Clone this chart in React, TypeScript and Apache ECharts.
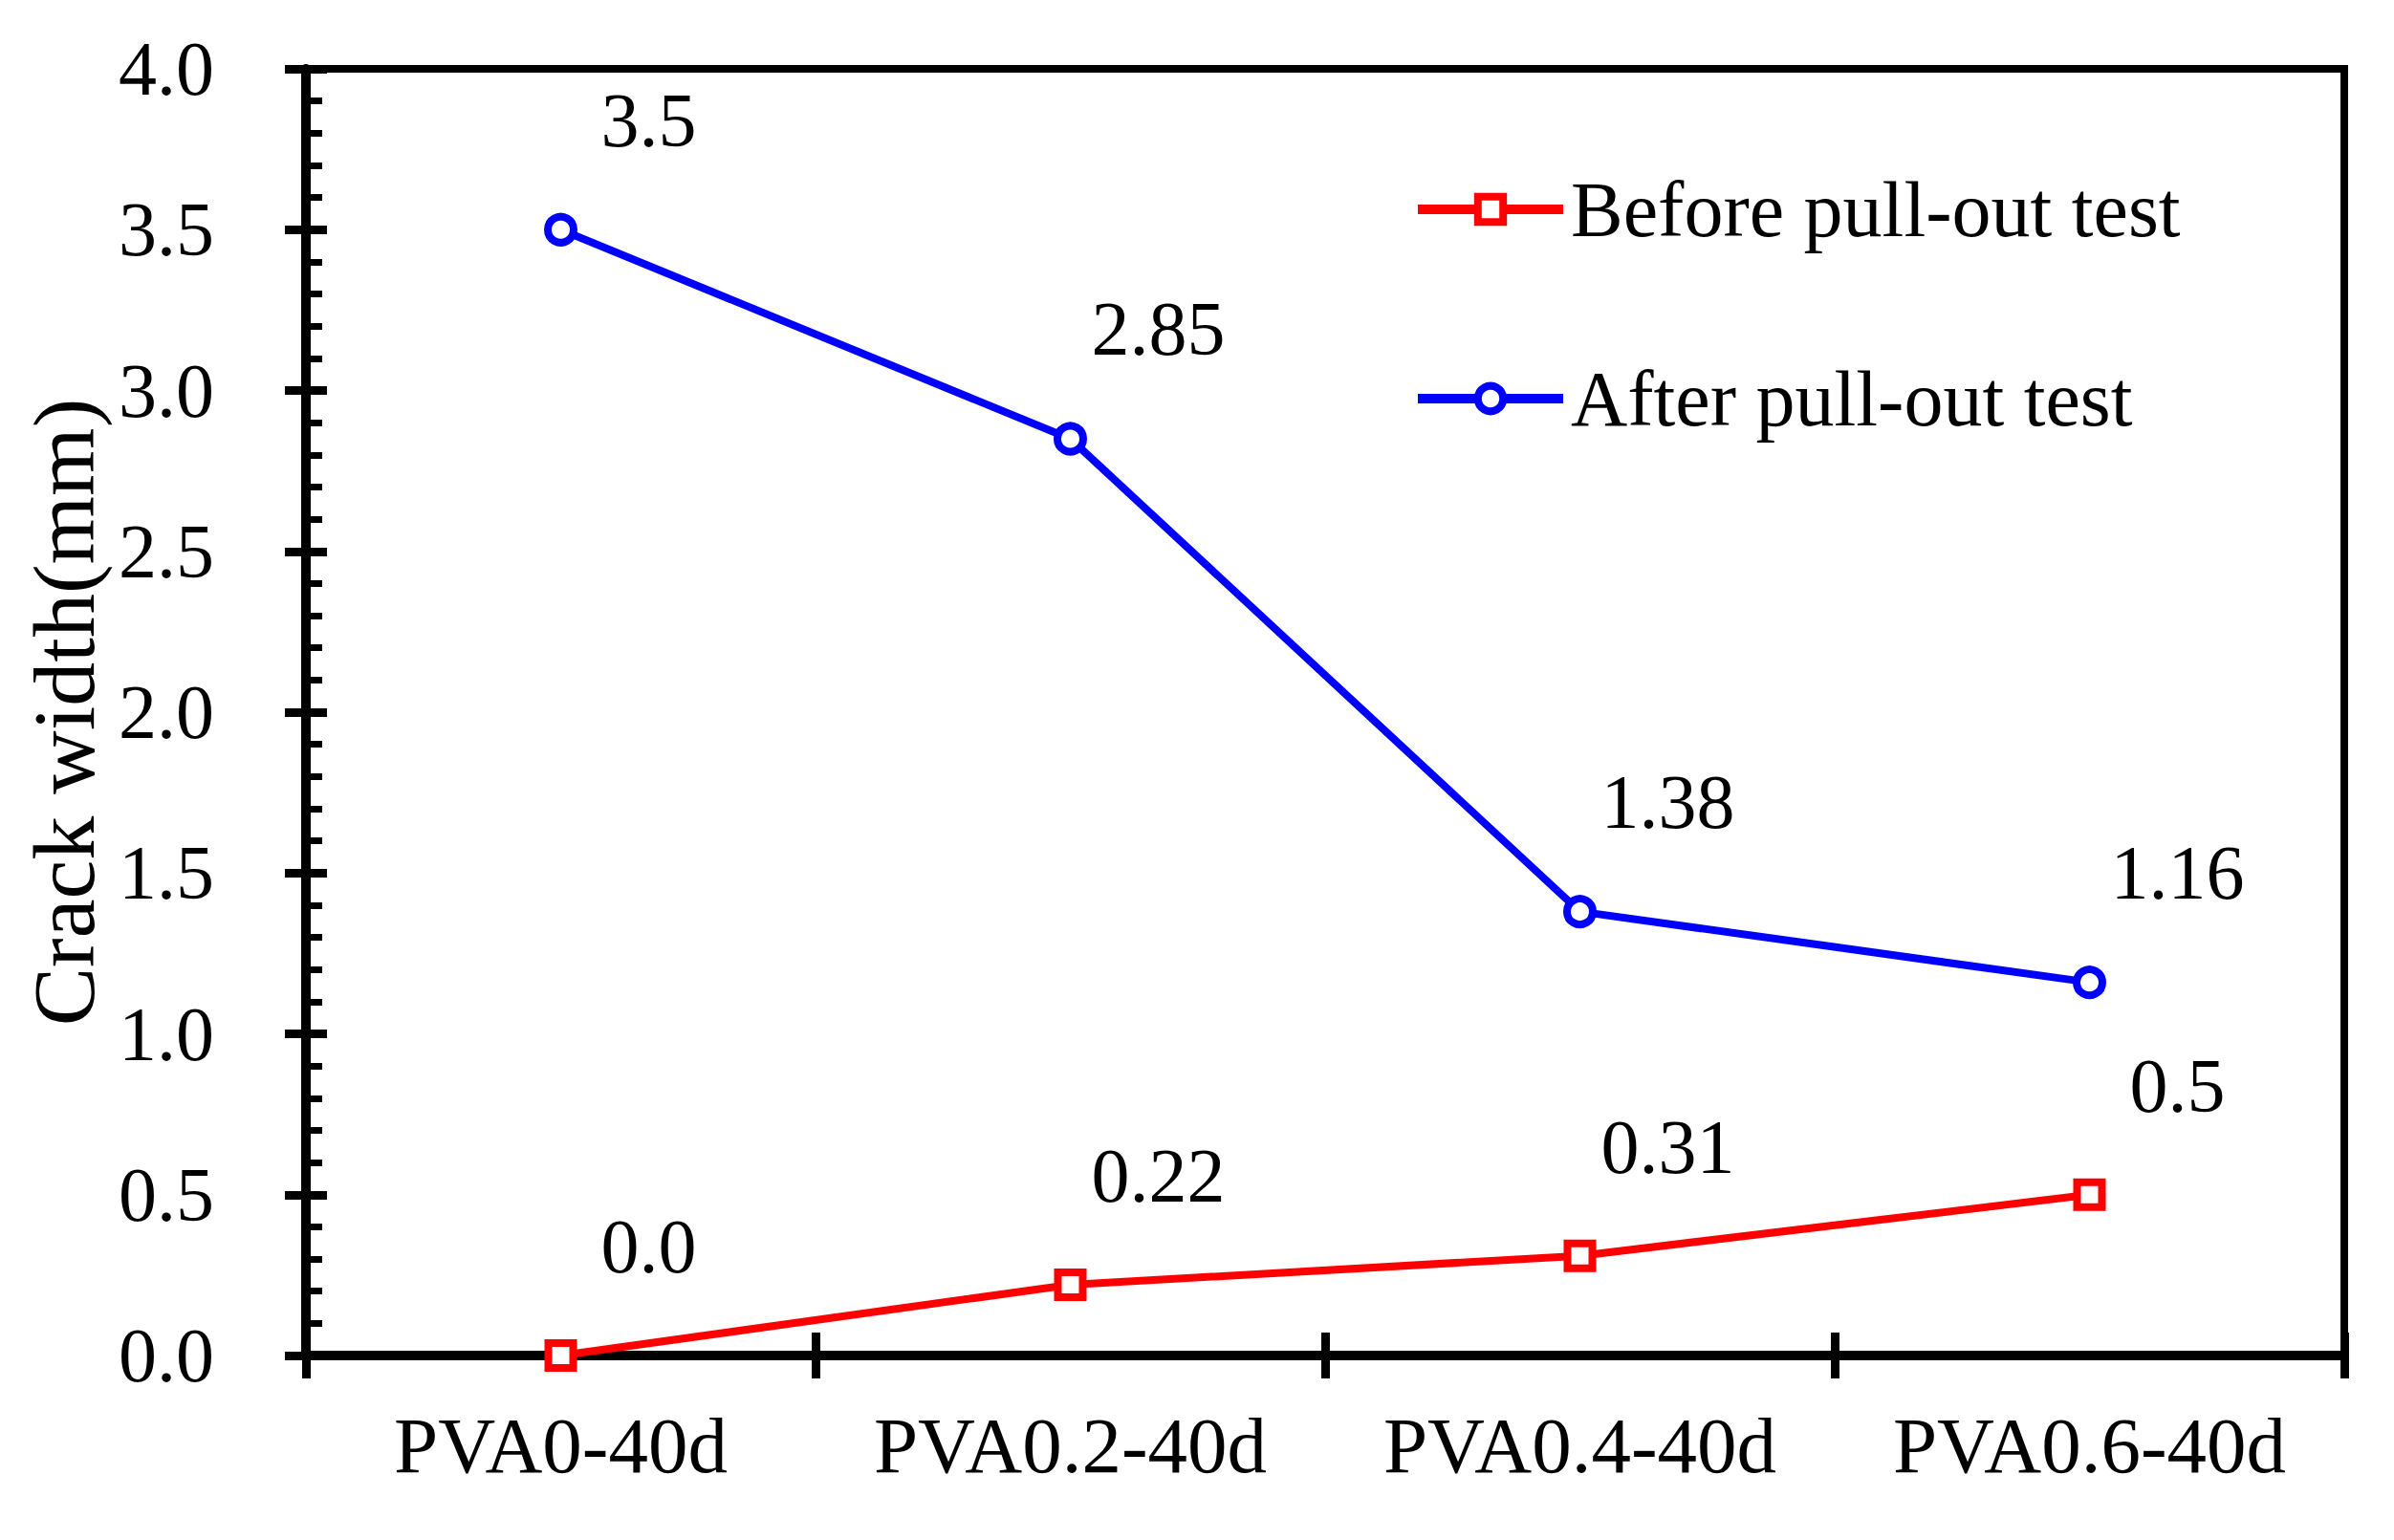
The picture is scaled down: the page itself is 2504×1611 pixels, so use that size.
import React, { useEffect, useRef } from 'react';
import * as echarts from 'echarts';

const categories = ['PVA0-40d', 'PVA0.2-40d', 'PVA0.4-40d', 'PVA0.6-40d'];
const beforeTest = [0, 0.22, 0.31, 0.5];
const afterTest = [3.5, 2.85, 1.38, 1.16];
const seriesNames = ['Before pull-out test', 'After pull-out test'];

const FONT = '"Liberation Serif", "Times New Roman", serif';

const App: React.FC = () => {
  const chartRef = useRef<HTMLDivElement>(null);

  useEffect(() => {
    if (!chartRef.current) return;
    const chart = echarts.init(chartRef.current, undefined, { renderer: 'svg' });

    // labels sit up and to the right of each point
    const pointLabel = {
      show: true,
      position: 'top',
      offset: [92, -52],
      fontSize: 80,
      fontFamily: FONT,
      color: '#000',
      formatter: (p: any) => (p.value === 0 ? '0.0' : String(p.value)),
    };

    const option = {
      animation: false,
      backgroundColor: '#fff',
      grid: {
        left: 320,
        right: 52,
        top: 72,
        bottom: 193,
        show: true,
        borderColor: '#000',
        borderWidth: 8,
        outerBoundsMode: 'none',
      },
      legend: {
        orient: 'vertical',
        left: 1473,
        top: 173,
        itemWidth: 152,
        itemHeight: 33,
        itemGap: 116,
        lineStyle: { width: 10 },
        itemStyle: { borderWidth: 8 },
        textStyle: {
          fontSize: 82,
          lineHeight: 80,
          fontFamily: FONT,
          color: '#000',
          padding: [0, 0, 0, 3],
        },
        data: seriesNames,
      },
      xAxis: [
        {
          type: 'category',
          data: categories,
          boundaryGap: true,
          axisLine: { lineStyle: { color: '#000', width: 10 } },
          axisTick: { show: true, interval: 0, length: 24, lineStyle: { color: '#000', width: 9 } },
          axisLabel: { interval: 0, fontSize: 83, fontFamily: FONT, color: '#000', margin: 52 },
          splitLine: { show: false },
        },
        {
          type: 'category',
          data: categories,
          position: 'bottom',
          boundaryGap: true,
          axisLine: { show: false },
          axisTick: { show: true, interval: 0, inside: true, length: 24, lineStyle: { color: '#000', width: 9 } },
          axisLabel: { show: false, interval: 0 },
          splitLine: { show: false },
        },
      ],
      yAxis: [
        {
          type: 'value',
          min: 0,
          max: 4,
          interval: 0.5,
          name: 'Crack width(mm)',
          nameLocation: 'middle',
          nameGap: 200,
          nameTextStyle: { fontSize: 92, fontFamily: FONT, color: '#000' },
          axisLine: { show: true, lineStyle: { color: '#000', width: 10 } },
          axisTick: { show: true, length: 22, lineStyle: { color: '#000', width: 9 } },
          axisLabel: {
            fontSize: 80,
            fontFamily: FONT,
            color: '#000',
            margin: 96,
            formatter: (v: number) => v.toFixed(1),
          },
          splitLine: { show: false },
        },
        {
          type: 'value',
          min: 0,
          max: 4,
          interval: 0.5,
          position: 'left',
          axisLine: { show: false },
          axisTick: { show: true, inside: true, length: 22, lineStyle: { color: '#000', width: 9 } },
          minorTick: { show: true, splitNumber: 5, length: 17, lineStyle: { color: '#000', width: 7 } },
          axisLabel: { show: false },
          splitLine: { show: false },
          minorSplitLine: { show: false },
        },
      ],
      series: [
        {
          name: seriesNames[0],
          type: 'line',
          data: beforeTest,
          symbol: 'rect',
          symbolSize: 26,
          itemStyle: { color: '#fff', borderColor: '#ff0000', borderWidth: 8 },
          lineStyle: { color: '#ff0000', width: 8 },
          label: pointLabel,
        },
        {
          name: seriesNames[1],
          type: 'line',
          data: afterTest,
          symbol: 'circle',
          symbolSize: 27,
          itemStyle: { color: '#fff', borderColor: '#0000ff', borderWidth: 8 },
          lineStyle: { color: '#0000ff', width: 8 },
          label: pointLabel,
        },
      ],
    };

    chart.setOption(option);

    const handleResize = () => chart.resize();
    window.addEventListener('resize', handleResize);

    return () => {
      window.removeEventListener('resize', handleResize);
      chart.dispose();
    };
  }, []);

  return (
    <div
      ref={chartRef}
      style={{ position: 'absolute', left: 0, top: 0, width: '2504px', height: '1611px' }}
    />
  );
};

export default App;
